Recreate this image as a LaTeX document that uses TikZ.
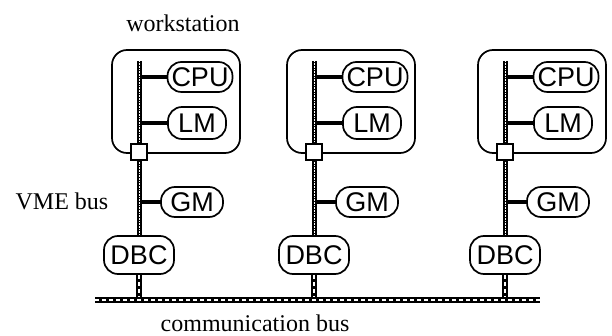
\documentclass[tikz,border=0pt]{standalone}
\usepackage{fontspec}
\setmainfont{Liberation Serif}
\newfontfamily\unitfont{Liberation Sans}
\usetikzlibrary{backgrounds}
\begin{document}
\begin{tikzpicture}[x=1pt,y=-1pt,
  unit/.style={draw, line width=1.7pt, rounded corners=14pt, fill=white,
    font=\unitfont\fontsize{27}{27}\selectfont, inner sep=0pt,
    minimum height=30pt},
  ws/.style={draw, line width=1.7pt, rounded corners=15pt,
    minimum width=128pt, minimum height=103pt, inner sep=0pt},
  port/.style={draw, line width=1.4pt, fill=white, minimum size=16pt, inner sep=0pt},
  stub/.style={line width=4pt},
  vme/.style={line width=5pt, postaction={draw, white, line width=1pt,
    dash pattern=on 0.8pt off 0.8pt}},
  commline/.style={line width=6pt, postaction={draw, white, line width=1.4pt,
    dash pattern=on 4pt off 3pt}},
  caption/.style={font=\fontsize{24}{24}\selectfont, inner sep=0pt}]
  \useasboundingbox (0,0) rectangle (612,336);

  % communication bus end points
  \coordinate (cbL) at (95,300);
  \coordinate (cbR) at (540,300);

  % one workstation with its VME bus per column
  \foreach \X/\i in {139/1,314/2,505/3} {
    \node[ws] (ws\i) at (\X+37,101.5) {};
    \coordinate (top\i) at (\X,61);
    \node[unit, minimum width=65pt] (cpu\i) at (\X+61,77) {CPU};
    \node[unit, minimum width=58pt, minimum height=32pt] (lm\i) at (\X+58,123) {LM};
    \node[unit, minimum width=62pt] (gm\i) at (\X+53,202) {GM};
    \node[unit, minimum width=70pt, minimum height=38pt] (dbc\i) at (\X,255) {DBC};
    \node[port] (sq\i) at (\X,152) {};
    \begin{scope}[on background layer]
      \draw[stub] (cpu\i.west) -- (cpu\i.west -| top\i);
      \draw[stub] (lm\i.west) -- (lm\i.west -| top\i);
      \draw[stub] (gm\i.west) -- (gm\i.west -| top\i);
      \draw[vme] (top\i) -- (dbc\i.north);
      \draw[commline] (dbc\i.south) -- (dbc\i.south |- cbL);
    \end{scope}
  }
  \draw[commline] (cbL) -- (cbR);

  \node[caption] (wslabel) at (183,23) {workstation};
  \node[caption] (vmelabel) at (62,201) {VME bus};
  \node[caption] (commlabel) at (255,323) {communication bus};
\end{tikzpicture}
\end{document}
